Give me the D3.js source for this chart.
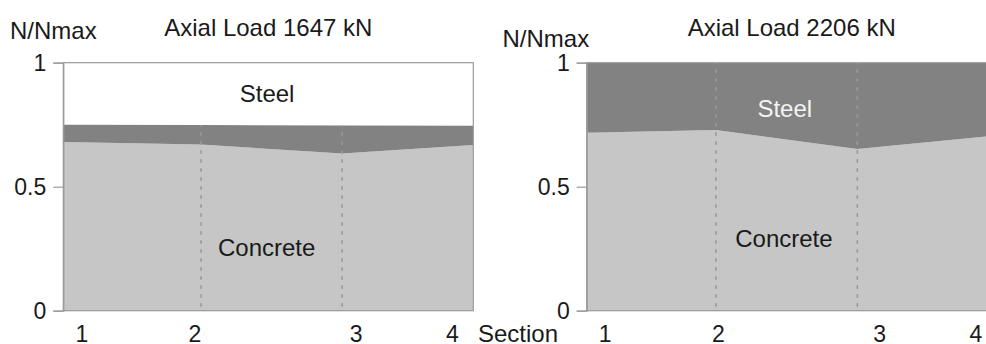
<!DOCTYPE html>
<html>
<head>
<meta charset="utf-8">
<script src="https://cdn.jsdelivr.net/npm/d3@7/dist/d3.min.js"></script>
<style>
  html, body { margin: 0; padding: 0; background: #fff; }
  svg { display: block; font-family: "Liberation Sans", Arial, Helvetica, sans-serif; }
</style>
</head>
<body>
<svg id="chart" width="986" height="344"></svg>
<script>
// Load sharing between concrete and steel along the column (N/Nmax),
// positions are normalised distance along the member (0..1).
const positions1647 = [0, 0.336, 0.680, 1];
const concrete1647 = [0.680, 0.670, 0.634, 0.668];
const steel1647    = [0.070, 0.079, 0.113, 0.078];

const positions2206 = [0, 0.315, 0.660, 1];
const concrete2206 = [0.718, 0.729, 0.652, 0.707];
const steel2206    = [0.282, 0.271, 0.348, 0.293];

const sectionLabels = ["1", "2", "3", "4"];
const sectionPositions = [0.044, 0.320, 0.713, 0.948];

const yTicks = [0, 0.5, 1];
const yTickLabels = ["0", "0.5", "1"];

const panels = [
  { title: "Axial Load 1647 kN", pos: positions1647, concrete: concrete1647, steel: steel1647,
    left: 63.3, yLabelY: 39, yLabelX: 10,
    steelLabel: { x: 0.497, y: 0.875, fill: "#1a1a1a" },
    concreteLabel: { x: 0.496, y: 0.255 } },
  { title: "Axial Load 2206 kN", pos: positions2206, concrete: concrete2206, steel: steel2206,
    left: 586.7, yLabelY: 46.5, yLabelX: 502.5,
    steelLabel: { x: 0.483, y: 0.815, fill: "#f4f4f4" },
    concreteLabel: { x: 0.481, y: 0.293 } }
];

const svg = d3.select("#chart");
const plotW = 410, plotTop = 62.7, plotBottom = 310.7;
const axisColor = "#9a9a9a";
const textColor = "#1a1a1a";

const y = d3.scaleLinear().domain([0, 1]).range([plotBottom, plotTop]);

panels.forEach(p => {
  const x = d3.scaleLinear().domain([0, 1]).range([p.left, p.left + plotW]);
  const g = svg.append("g");

  const rows = p.pos.map((v, i) => ({ pos: v, concrete: p.concrete[i], steel: p.steel[i] }));
  const stacked = d3.stack().keys(["concrete", "steel"])(rows);
  const fills = { concrete: "#c6c6c6", steel: "#828282" };

  const area = d3.area()
    .x(d => x(d.data.pos))
    .y0(d => y(d[0]))
    .y1(d => y(d[1]));

  g.selectAll("path.layer")
    .data(stacked)
    .join("path")
    .attr("class", "layer")
    .attr("fill", d => fills[d.key])
    .attr("d", area);

  // dotted section boundaries, from the axis up to the total share
  const inner = rows.filter(r => r.pos > 0 && r.pos < 1);
  g.selectAll("line.boundary")
    .data(inner)
    .join("line")
    .attr("class", "boundary")
    .attr("x1", d => x(d.pos)).attr("x2", d => x(d.pos))
    .attr("y1", y(0) - 4)
    .attr("y2", d => y(d.concrete + d.steel))
    .attr("stroke", "#999")
    .attr("stroke-width", 1.6)
    .attr("stroke-dasharray", "3.5,5.5");

  // plot frame
  g.append("rect")
    .attr("x", x(0)).attr("y", y(1))
    .attr("width", plotW).attr("height", y(0) - y(1))
    .attr("fill", "none")
    .attr("stroke", axisColor)
    .attr("stroke-width", 1.2);

  // y axis
  const yAxis = d3.axisLeft(y)
    .tickValues(yTicks)
    .tickFormat((d, i) => yTickLabels[i])
    .tickSize(10)
    .tickPadding(7);
  const ya = g.append("g")
    .attr("transform", `translate(${x(0)},0)`)
    .call(yAxis);
  ya.select(".domain").attr("stroke", axisColor).attr("stroke-width", 1.2);
  ya.selectAll(".tick line").attr("stroke", axisColor).attr("stroke-width", 1.2);
  ya.selectAll(".tick text")
    .attr("fill", textColor)
    .attr("font-size", 23)
    .attr("font-family", "Liberation Sans, Arial, sans-serif");

  // x axis: section labels only
  const xAxis = d3.axisBottom(x)
    .tickValues(sectionPositions)
    .tickFormat((d, i) => sectionLabels[i])
    .tickSize(0)
    .tickPadding(0);
  const xa = g.append("g")
    .attr("transform", `translate(0,${y(0)})`)
    .call(xAxis);
  xa.select(".domain").remove();
  xa.selectAll(".tick text")
    .attr("fill", textColor)
    .attr("font-size", 23)
    .attr("font-family", "Liberation Sans, Arial, sans-serif")
    .attr("dy", null)
    .attr("y", 31);

  // titles and labels
  g.append("text")
    .attr("x", x(0.5)).attr("y", 36)
    .attr("text-anchor", "middle")
    .attr("font-size", 24)
    .attr("fill", textColor)
    .text(p.title);

  g.append("text")
    .attr("x", p.yLabelX).attr("y", p.yLabelY)
    .attr("font-size", 24)
    .attr("fill", textColor)
    .text("N/Nmax");

  g.append("text")
    .attr("x", x(p.steelLabel.x)).attr("y", y(p.steelLabel.y))
    .attr("text-anchor", "middle")
    .attr("dominant-baseline", "central")
    .attr("font-size", 24)
    .attr("fill", p.steelLabel.fill)
    .text("Steel");

  g.append("text")
    .attr("x", x(p.concreteLabel.x)).attr("y", y(p.concreteLabel.y))
    .attr("text-anchor", "middle")
    .attr("dominant-baseline", "central")
    .attr("font-size", 24)
    .attr("fill", textColor)
    .text("Concrete");
});

// shared x-axis title
svg.append("text")
  .attr("x", 478).attr("y", y(0) + 31)
  .attr("font-size", 24)
  .attr("fill", textColor)
  .text("Section");
</script>
</body>
</html>
